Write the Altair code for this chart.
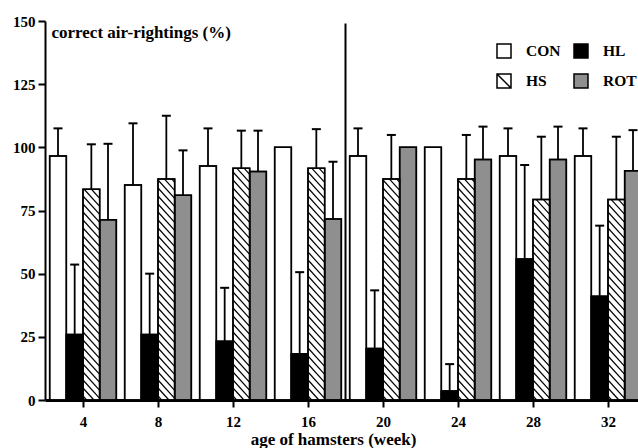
import altair as alt
import pandas as pd

# ---------------- data ----------------
weeks = [4, 8, 12, 16, 20, 24, 28, 32]
groups = ["CON", "HL", "HS", "ROT"]
con_mean = [96.6, 85.1, 92.6, 100.0, 96.6, 100.0, 96.6, 96.6]
con_upper = [107.5, 109.5, 107.5, 100.0, 107.5, 100.0, 107.5, 107.5]
hl_mean = [25.9, 25.9, 23.3, 18.3, 20.4, 3.6, 55.8, 41.1]
hl_upper = [53.6, 50.0, 44.4, 50.6, 43.4, 14.2, 93.0, 69.0]
hs_mean = [83.4, 87.5, 91.7, 91.7, 87.5, 87.5, 79.4, 79.4]
hs_upper = [101.2, 112.5, 106.6, 107.2, 104.9, 104.9, 104.2, 104.2]
rot_mean = [71.3, 81.0, 90.4, 71.6, 100.0, 95.2, 95.2, 90.7]
rot_upper = [101.4, 98.8, 106.6, 94.3, 100.0, 108.2, 108.2, 106.8]
y_ticks = [0, 25, 50, 75, 100, 125, 150]
separator_week = [18]
separator_top = [149]

# ---------------- layout constants ----------------
W, H = 593, 379
X_DOMAIN = [1.973, 33.6]
Y_DOMAIN = [0, 150]
BAR_W = 0.889          # bar width in weeks
CAP_W = 0.48           # error-bar cap width in weeks
HATCH_PX = 8.0         # vertical spacing of hatch lines in px
HATCH_SLOPE = 1.1      # vertical px fall per horizontal px
FONT = "Liberation Serif"
COLORS = ["white", "black", "white", "#8f8f8f"]
HS_PATH = "M-1,-1H1V1H-1Z M-1,-1L1,1"
SHAPES = ["square", "square", HS_PATH, "square"]

px_per_week = W / (X_DOMAIN[1] - X_DOMAIN[0])
units_per_px = (Y_DOMAIN[1] - Y_DOMAIN[0]) / H

means = [con_mean, hl_mean, hs_mean, rot_mean]
uppers = [con_upper, hl_upper, hs_upper, rot_upper]
rows = []
for gi, g in enumerate(groups):
    for w, m, u in zip(weeks, means[gi], uppers[gi]):
        c = w + (gi - 1.5) * BAR_W
        rows.append(dict(week=w, group=g, mean=m, upper=u, center=c,
                         x1=c - BAR_W / 2, x2=c + BAR_W / 2,
                         cap1=c - CAP_W / 2, cap2=c + CAP_W / 2))
df = pd.DataFrame(rows)

# hatch lines ("\") inside the HS bars, derived from the bar data
hatch = []
drop = BAR_W * px_per_week * HATCH_SLOPE * units_per_px
step = HATCH_PX * units_per_px
for _, r in df[df.group == "HS"].iterrows():
    top = r["mean"]
    c = step / 2
    while c < top + drop:
        t0 = max(0.0, (c - top) / drop)
        t1 = min(1.0, c / drop)
        if t1 > t0:
            hatch.append(dict(hx1=r.x1 + t0 * BAR_W, hy1=c - drop * t0,
                              hx2=r.x1 + t1 * BAR_W, hy2=c - drop * t1))
        c += step
hdf = pd.DataFrame(hatch)

sep_df = pd.DataFrame({"week": separator_week, "top": separator_top})

xscale = alt.Scale(domain=X_DOMAIN, nice=False, zero=False)
yscale = alt.Scale(domain=Y_DOMAIN, nice=False, zero=False)
fill_scale = alt.Scale(domain=groups, range=COLORS)
shape_scale = alt.Scale(domain=groups, range=SHAPES)

X_TITLE = "age of hamsters (week)"
Y_TITLE = "correct air-rightings (%)"
x_axis = alt.Axis(values=weeks, format="d", tickSize=7, tickWidth=2, domainWidth=3,
                  labelPadding=7, labelFontSize=15, labelFont=FONT, labelFontWeight="bold",
                  labelColor="black", grid=False,
                  titleFont=FONT, titleFontSize=17, titleFontWeight="bold", titleColor="black",
                  titleX=288, titleY=44, titleBaseline="alphabetic", titleAlign="center",
                  domainColor="black", tickColor="black")
y_axis = alt.Axis(values=y_ticks, tickSize=7, tickWidth=2, domainWidth=2, labelPadding=3,
                  labelFontSize=15, labelFont=FONT, labelFontWeight="bold", labelColor="black",
                  grid=False, titleAngle=0, titleAlign="left",
                  titleBaseline="alphabetic", titleX=6, titleY=16, titleFont=FONT,
                  titleFontSize=17, titleFontWeight="bold", titleColor="black",
                  domainColor="black", tickColor="black")

legend = alt.Legend(
    orient="none", legendX=451, legendY=22, columns=2, direction="horizontal",
    symbolSize=196, symbolStrokeColor="black", symbolStrokeWidth=1.5,
    labelFont=FONT, labelFontSize=15.5, labelFontWeight="bold", labelColor="black",
    labelOffset=14, columnPadding=10, rowPadding=10, padding=0,
)


def X(field):
    return alt.X(field, type="quantitative", scale=xscale, axis=x_axis, title=X_TITLE)


def Y(field):
    return alt.Y(field, type="quantitative", scale=yscale, axis=y_axis, title=Y_TITLE)


FILL = alt.Fill("group:N", scale=fill_scale, legend=legend, title=None)
SHAPE = alt.Shape("group:N", scale=shape_scale, legend=legend, title=None)

base = alt.Chart(df)

bars = base.mark_bar(stroke="black", strokeWidth=1.5).encode(
    x=X("x1"), x2="x2", y=Y("mean"), y2=alt.datum(0), fill=FILL,
)

hatch_layer = alt.Chart(hdf).mark_rule(color="black", strokeWidth=1.2).encode(
    x=X("hx1"), x2="hx2", y=Y("hy1"), y2="hy2",
)

outline = base.mark_bar(fillOpacity=0, stroke="black", strokeWidth=1.5).encode(
    x=X("x1"), x2="x2", y=Y("mean"), y2=alt.datum(0),
)

err_base = base.transform_filter("datum.upper > datum.mean")
whisker = err_base.mark_rule(color="black", strokeWidth=1.8).encode(
    x=X("center"), y=Y("mean"), y2="upper",
)
cap = err_base.mark_rule(color="black", strokeWidth=2).encode(
    x=X("cap1"), x2="cap2", y=Y("upper"),
)

sep = alt.Chart(sep_df).mark_rule(color="black", strokeWidth=2).encode(
    x=X("week"), y=Y("top"), y2=alt.datum(0),
)

# legend carrier: no visible points, only provides the fill+shape legend symbols
legend_layer = base.transform_filter("false").mark_point(
    filled=True, stroke="black", strokeWidth=1.5, opacity=1
).encode(
    x=X("center"), y=Y("mean"), fill=FILL, shape=SHAPE,
)

chart = alt.layer(bars, hatch_layer, outline, whisker, cap, sep, legend_layer).properties(
    width=W, height=H,
    autosize=alt.AutoSizeParams(type="none"),
    padding={"left": 45, "top": 21, "right": 0, "bottom": 48},
    background="white",
).configure_view(stroke=None)

chart.save("out.html", embed_options={"renderer": "svg", "actions": False})
